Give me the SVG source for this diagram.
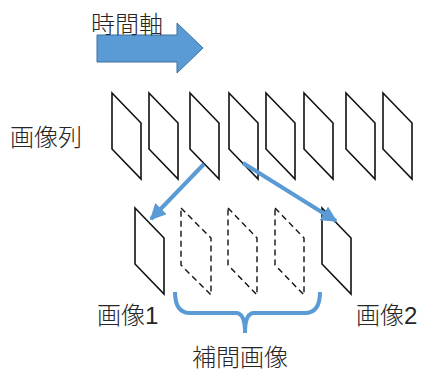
<svg xmlns="http://www.w3.org/2000/svg" width="422" height="372" viewBox="0 0 422 372">
<defs>
<style>
.t{font-family:"Liberation Sans","Noto Sans CJK JP",sans-serif;font-size:24px;font-weight:300;fill:#262626}
.f{fill:#fff;stroke:#111;stroke-width:1.6;stroke-linejoin:miter}
.d{fill:none;stroke:#111;stroke-width:1.4;stroke-dasharray:6 4}
.c{fill:none;stroke:#5B9BD5;stroke-width:4}
</style>
<marker id="ah" viewBox="0 0 10 10" refX="9" refY="5" markerWidth="4" markerHeight="4" orient="auto" markerUnits="strokeWidth">
<path d="M0,0 L10,5 L0,10 Z" fill="#5B9BD5"/>
</marker>
<path id="pg" d="M0,0 L29,30 L29,86 L0,56 Z"/>
</defs>
<rect width="422" height="372" fill="#fff"/>
<g id="time-axis">
<path d="M97,35 H177 V23 L203,48 L177,73 V62 H97 Z" fill="#5B9BD5" stroke="#41719C" stroke-width="1"/>
<text class="t" x="91" y="33">時間軸</text>
</g>
<g id="seq-label"><text class="t" x="10" y="146">画像列</text></g>
<g id="seq">
<use href="#pg" class="f" x="112" y="93"/>
<use href="#pg" class="f" x="149" y="93"/>
<use href="#pg" class="f" x="190" y="93"/>
<use href="#pg" class="f" x="229" y="93"/>
<use href="#pg" class="f" x="266" y="93"/>
<use href="#pg" class="f" x="304" y="93"/>
<use href="#pg" class="f" x="346" y="93"/>
<use href="#pg" class="f" x="383" y="93"/>
</g>
<g id="img1"><use href="#pg" class="f" x="135" y="208"/><text class="t" x="97" y="324">画像1</text></g>
<g id="interp1"><path class="d" d="M181,208 L211,238 V295 L181,265 Z"/></g>
<g id="interp2"><path class="d" d="M228,208 L257,238 V295 L228,265 Z"/></g>
<g id="interp3"><path class="d" d="M275,208 L304,238 V295 L275,265 Z"/></g>
<g id="img2"><use href="#pg" class="f" x="322" y="208"/><text class="t" x="356" y="324">画像2</text></g>
<g id="interp-label">
<path class="c" d="M175,292 Q175,313 190,313 H236 Q245,313 245,333 Q245,313 254,313 H305 Q320,313 320,292"/>
<text class="t" x="192" y="366">補間画像</text>
</g>
<g id="connectors">
<line class="c" x1="204" y1="164" x2="151" y2="219" marker-end="url(#ah)"/>
<line class="c" x1="243" y1="163" x2="336" y2="221" marker-end="url(#ah)"/>
</g>
</svg>
